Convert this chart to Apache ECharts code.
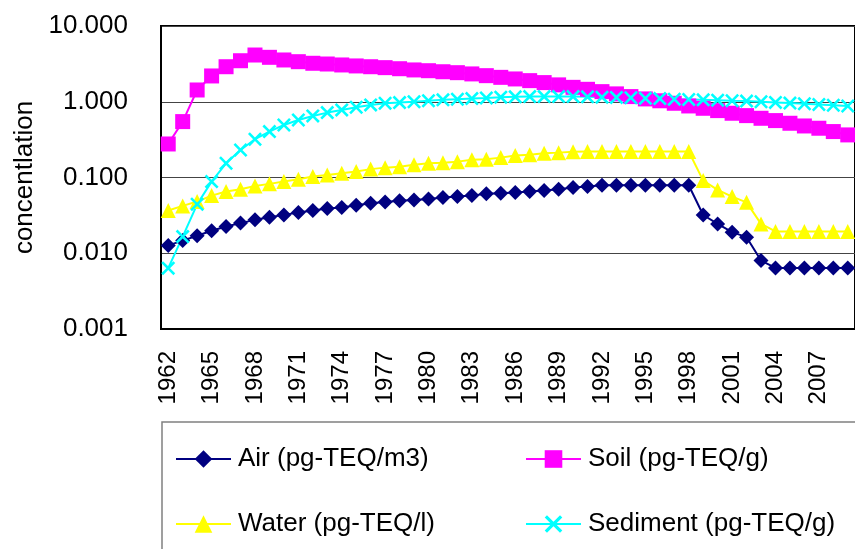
<!DOCTYPE html>
<html>
<head>
<meta charset="utf-8">
<script src="https://cdn.jsdelivr.net/npm/echarts@6/dist/echarts.min.js"></script>
<style>
html,body{margin:0;padding:0;background:#fff;}
#chart{width:855px;height:549px;}
</style>
</head>
<body>
<div id="chart"></div>
<script>
const years = [];
for (let y = 1962; y <= 2009; y++) years.push(String(y));

const airName = 'Air (pg-TEQ/m3)';
const soilName = 'Soil (pg-TEQ/g)';
const waterName = 'Water (pg-TEQ/l)';
const sedimentName = 'Sediment (pg-TEQ/g)';

const air = [0.0127,0.0147,0.0170,0.0198,0.0226,0.0250,0.0276,0.0299,0.0321,0.0345,
  0.0366,0.0389,0.0401,0.0431,0.0457,0.0476,0.0495,0.0506,0.0522,0.0543,
  0.0560,0.0577,0.0608,0.0620,0.0632,0.0652,0.0672,0.0700,0.0736,0.0759,
  0.0790,0.0790,0.0790,0.0790,0.0790,0.0790,0.0790,0.0320,0.0244,0.0190,
  0.0163,0.0080,0.0064,0.0064,0.0064,0.0064,0.0064,0.0064];

const soil = [0.277,0.547,1.43,2.19,2.90,3.48,4.14,3.86,3.56,3.38,
  3.22,3.15,3.06,2.97,2.90,2.82,2.73,2.63,2.57,2.49,
  2.42,2.33,2.21,2.10,2.00,1.90,1.79,1.67,1.55,1.46,
  1.36,1.27,1.17,1.09,1.03,0.955,0.88,0.82,0.764,0.705,
  0.656,0.605,0.564,0.520,0.479,0.447,0.404,0.365];

const water = [0.0366,0.0422,0.0481,0.0577,0.0652,0.0700,0.0774,0.0824,0.0884,0.0948,
  0.103,0.108,0.114,0.120,0.129,0.135,0.139,0.147,0.154,0.157,
  0.162,0.171,0.174,0.183,0.195,0.199,0.209,0.213,0.218,0.220,
  0.220,0.220,0.220,0.220,0.220,0.220,0.220,0.091,0.0686,0.056,
  0.047,0.0244,0.0194,0.0194,0.0194,0.0194,0.0194,0.0194];

const sediment = [0.00636,0.0166,0.0443,0.0883,0.154,0.231,0.320,0.404,0.494,0.575,
  0.650,0.719,0.780,0.846,0.908,0.955,0.975,1.00,1.03,1.06,
  1.08,1.10,1.12,1.15,1.16,1.17,1.17,1.17,1.17,1.16,
  1.15,1.14,1.13,1.11,1.10,1.08,1.07,1.06,1.05,1.03,
  1.02,1.00,0.98,0.96,0.94,0.92,0.90,0.88];

const yTicks = ['0.001','0.010','0.100','1.000','10.000'];

const FONT = 'Liberation Sans, Arial, sans-serif';
const xPath = 'path://M0,1.3L1.3,0L5,3.7L8.7,0L10,1.3L6.3,5L10,8.7L8.7,10L5,6.3L1.3,10L0,8.7L3.7,5Z';

function mkSeries(name, data, color, symbol, size) {
  return {
    name: name, type: 'line', data: data,
    symbol: symbol, symbolSize: size,
    showSymbol: true, showAllSymbol: true,
    lineStyle: {color: color, width: 2},
    itemStyle: {color: color},
    emphasis: {disabled: true},
    animation: false
  };
}

function mkLegend(name, left, top) {
  return {
    data: [name], left: left, top: top,
    itemWidth: 55, itemHeight: 22, itemGap: 0,
    textStyle: {fontSize: 26, color: '#000', fontFamily: FONT, padding: [0,0,0,2]},
    padding: 0
  };
}

const chart = echarts.init(document.getElementById('chart'), null, {renderer: 'canvas'});
chart.setOption({
  backgroundColor: '#fff',
  animation: false,
  grid: {left: 161, top: 26, right: -4, bottom: 220, show: true, borderColor: '#000', borderWidth: 2, backgroundColor: 'transparent'},
  xAxis: {
    type: 'category', data: years, boundaryGap: true,
    axisLine: {show: true, lineStyle: {color: '#000', width: 2}},
    axisTick: {show: false},
    axisLabel: {rotate: 90, interval: 2, fontSize: 24, color: '#000', fontFamily: FONT, margin: 22}
  },
  yAxis: {
    type: 'log', logBase: 10, min: 0.001, max: 10,
    name: 'concentlation', nameLocation: 'middle', nameGap: 122,
    nameTextStyle: {fontSize: 26, color: '#000', fontFamily: FONT},
    axisLine: {show: true, lineStyle: {color: '#000', width: 2}},
    axisTick: {show: false},
    axisLabel: {
      fontSize: 26, color: '#000', fontFamily: FONT, margin: 33,
      formatter: function (v) {
        const i = Math.round(Math.log10(v)) + 3;
        return yTicks[i] !== undefined ? yTicks[i] : '';
      }
    },
    splitLine: {show: true, lineStyle: {color: '#444', width: 1}}
  },
  legend: [
    mkLegend(airName, 175, 446),
    mkLegend(soilName, 525, 446),
    mkLegend(waterName, 175, 511),
    mkLegend(sedimentName, 525, 511)
  ],
  graphic: [{
    type: 'rect', shape: {x: 162, y: 422, width: 720, height: 160},
    style: {fill: 'none', stroke: '#808080', lineWidth: 1.5}, z: -1
  }],
  series: [
    mkSeries(airName, air, '#000080', 'diamond', 15),
    mkSeries(soilName, soil, '#FF00FF', 'rect', 15),
    mkSeries(waterName, water, '#FFFF00', 'triangle', 15),
    mkSeries(sedimentName, sediment, '#00FFFF', xPath, 14)
  ]
});
</script>
</body>
</html>
